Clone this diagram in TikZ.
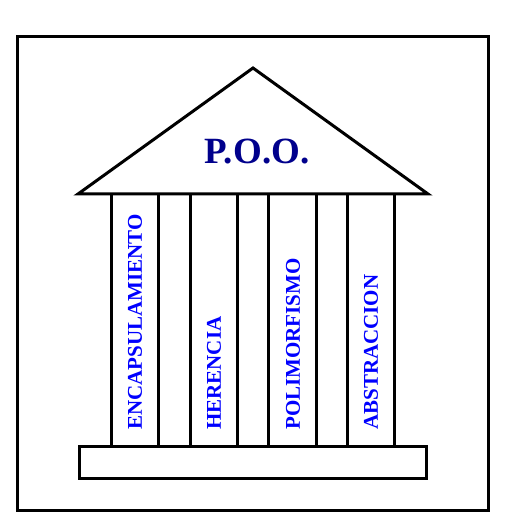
\documentclass[tikz,border=0pt]{standalone}
\usepackage{fontspec}
\setmainfont{Liberation Serif}
\definecolor{navy}{RGB}{0,0,140}
\definecolor{pblue}{RGB}{0,0,255}
\begin{document}
\begin{tikzpicture}[x=1pt,y=-1pt,
  edge/.style={line width=3pt,black},
  pillartext/.style={rotate=90,anchor=west,inner sep=0pt,text=pblue,font=\fontsize{21}{21}\selectfont\bfseries},
  titletext/.style={inner sep=0pt,text=navy,font=\fontsize{37}{37}\selectfont\bfseries}]
\useasboundingbox (0,0) rectangle (526,526);
% outer frame
\draw[edge] (17,37) rectangle (488,510);
% roof
\draw[edge] (78,194) -- (253,68) -- (428,194) -- cycle;
% pillars
\foreach \x in {111.5,158.5,190,237,268.5,316.5,347,394}
  \draw[edge] (\x,194) -- (\x,446);
% base
\draw[edge] (79,446) rectangle (426,478);
% texts
\node[titletext,anchor=base] (poo) at (257,164) {P.O.O.};
\node[pillartext] (encap) at (135,430) {ENCAPSULAMIENTO};
\node[pillartext] (heren) at (214,430) {HERENCIA};
\node[pillartext] (polim) at (293,430) {POLIMORFISMO};
\node[pillartext] (abstr) at (371,430) {ABSTRACCION};
\end{tikzpicture}
\end{document}
